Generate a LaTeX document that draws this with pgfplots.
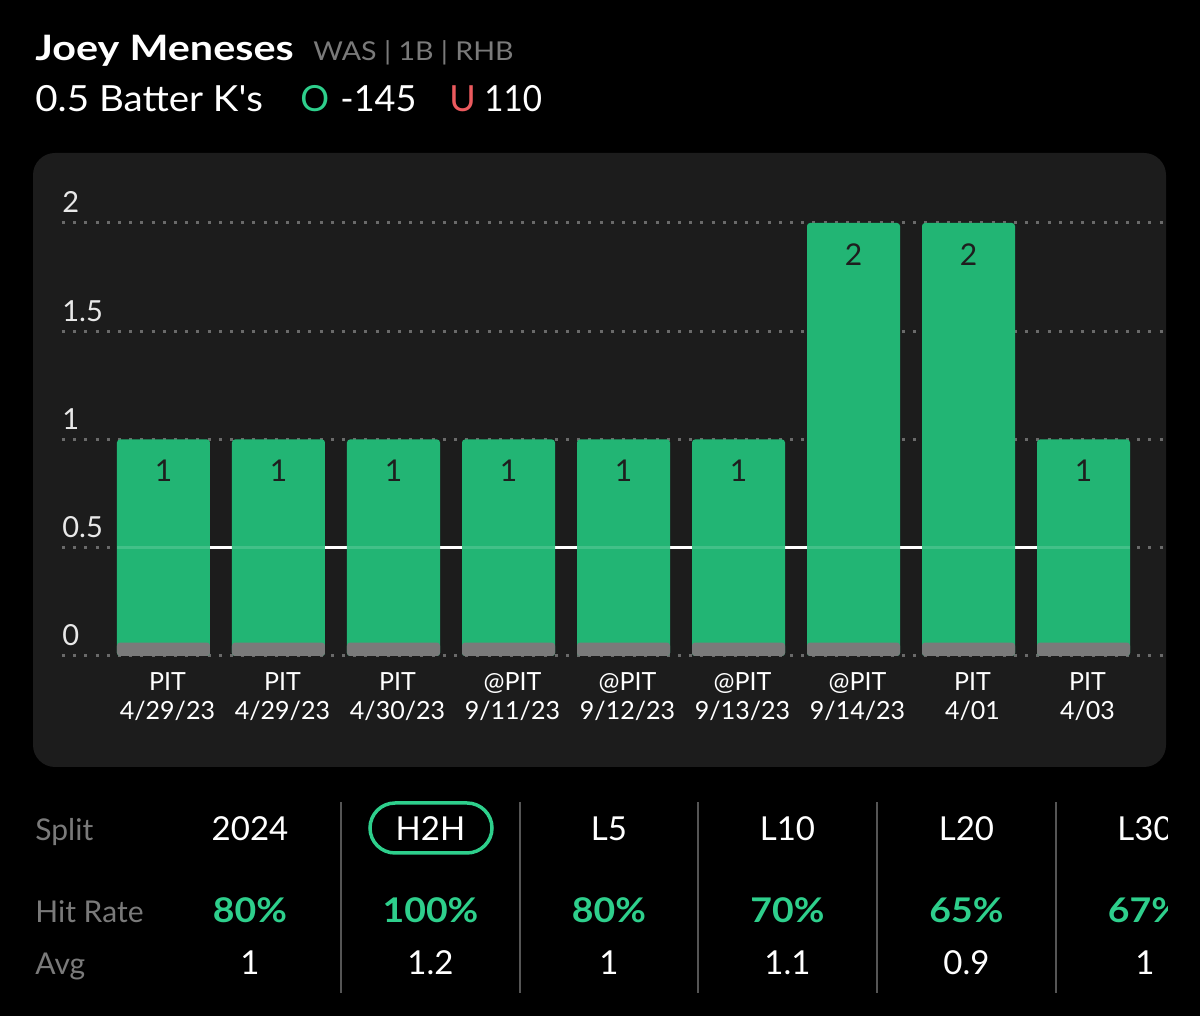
\documentclass[border=0pt]{standalone}
\usepackage{fontspec}
\setmainfont{Lato}
\newfontfamily\plainlato{Lato}
\usepackage{pgfplots}
\pgfplotsset{compat=1.18}
\definecolor{panel}{HTML}{1C1C1C}
\definecolor{bargreen}{HTML}{22B574}
\definecolor{txtgreen}{HTML}{2ECF8C}
\definecolor{ured}{HTML}{EC5A5E}
\definecolor{subgray}{HTML}{7A7A7A}
\definecolor{dotgray}{HTML}{6A6A6A}
\definecolor{sepgray}{HTML}{555555}
\definecolor{barbase}{HTML}{7A7A7A}
\definecolor{lbldark}{HTML}{1E1E1E}
\definecolor{ticktxt}{HTML}{E8E8E8}
\begin{document}
\begin{tikzpicture}[x=0.5pt,y=0.5pt]
\fill[black] (0,0) rectangle (1200,1016);
\clip (0,0) rectangle (1200,1016);
% header
\node[anchor=base west, inner sep=0, text=white, font=\fontsize{17.5}{20}\selectfont\bfseries] at (35,955) {\scalebox{1.18}[1]{Joey Meneses}};
\node[anchor=base west, inner sep=0, text=subgray, font=\fontsize{13}{15}\selectfont] at (313,955) {\scalebox{1.1}[1]{WAS | 1B | RHB}};
\node[anchor=base west, inner sep=0, text=white, font=\fontsize{18}{21}\selectfont] at (35,904) {\scalebox{1.07}[1]{0.5 Batter K{\plainlato'}s}};
\node[anchor=base west, inner sep=0, text=txtgreen, font=\fontsize{18}{21}\selectfont] at (300,904) {O};
\node[anchor=base west, inner sep=0, text=white, font=\fontsize{18}{21}\selectfont] at (340,904) {-145};
\node[anchor=base west, inner sep=0, text=ured, font=\fontsize{18}{21}\selectfont] at (449,904) {U};
\node[anchor=base west, inner sep=0, text=white, font=\fontsize{18}{21}\selectfont] at (484,904) {\scalebox{0.92}[1]{110}};
% panel
\fill[panel, rounded corners=11pt] (33,249) rectangle (1166,863);
\begin{axis}[
  at={(31pt,180pt)}, anchor=south west,
  width=550.5pt, height=216.5pt, scale only axis,
  xmin=-0.8826, xmax=8.6913, ymin=0, ymax=2,
  axis line style={draw=none}, major tick length=0pt,
  /pgf/number format/assume math mode=true,
  ytick={0,0.5,1,1.5,2}, yticklabels={0,0.5,1,1.5,2},
  yticklabel style={anchor=base west, inner sep=0pt, yshift=5pt, text=ticktxt, font=\fontsize{14.5}{16}\selectfont},
  xtick={0,1,2,3,4,5,6,7,8},
  xticklabels={{PIT\\4/29/23},{PIT\\4/29/23},{PIT\\4/30/23},{@PIT\\9/11/23},{@PIT\\9/12/23},{@PIT\\9/13/23},{@PIT\\9/14/23},{PIT\\4/01},{PIT\\4/03}},
  xticklabel style={align=center, anchor=north, inner sep=0pt, yshift=-8pt, xshift=2pt, text=white, font=\fontsize{12.5}{14.5}\selectfont},
  ymajorgrids, grid style={dotgray, line width=1.5pt, dash pattern=on 1.5pt off 4.1pt},
  clip=false,
]
\addplot[white, line width=1.3pt, forget plot] coordinates {(-0.4043,0.5) (8.4043,0.5)};
\addplot[ybar, bar width=0.8087, bar shift=0, fill=bargreen, draw=none, rounded corners=1.5pt,
  nodes near coords, nodes near coords style={anchor=north, inner sep=0pt, yshift=-10pt, text=lbldark, font=\fontsize{15}{17}\selectfont}]
  coordinates {(0,1) (1,1) (2,1) (3,1) (4,1) (5,1) (6,2) (7,2) (8,1)};
\addplot[ybar, bar width=0.8087, bar shift=0, fill=barbase, draw=none, rounded corners=1.5pt]
  coordinates {(0,0.062) (1,0.062) (2,0.062) (3,0.062) (4,0.062) (5,0.062) (6,0.062) (7,0.062) (8,0.062)};
\addplot[white, opacity=0.15, line width=1.3pt, forget plot] coordinates {(-0.4043,0.5) (8.4043,0.5)};
\end{axis}
% table
\begin{scope}
\clip (0,0) rectangle (1167,240);
\foreach \x in {341,520,698,877,1056} {\draw[sepgray, line width=1.3pt] (\x,23) -- (\x,214);}
\draw[txtgreen, line width=1.75pt, rounded corners=12.5pt] (370,163) rectangle (492,213);
\node[anchor=base west, inner sep=0, text=subgray, font=\fontsize{15}{17}\selectfont] at (35,175) {Split};
\node[anchor=base west, inner sep=0, text=subgray, font=\fontsize{15}{17}\selectfont] at (35,93) {Hit Rate};
\node[anchor=base west, inner sep=0, text=subgray, font=\fontsize{15}{17}\selectfont] at (35,41) {Avg};
\foreach \x/\h/\r/\a in {250/2024/80/1, 430.5/H2H/100/1.2, 609/L5/80/1, 787.5/L10/70/1.1, 966.5/L20/65/0.9, 1145/L30/67/1} {
  \node[anchor=base, inner sep=0, text=white, font=\fontsize{16.5}{18}\selectfont] at (\x,175) {\h};
  \node[anchor=base, inner sep=0, text=txtgreen, font=\fontsize{17}{19}\selectfont\bfseries] at (\x,93) {\scalebox{1.1}[1]{\r\%}};
  \node[anchor=base, inner sep=0, text=white, font=\fontsize{16.5}{18}\selectfont] at (\x,41) {\a};
}
\end{scope}
\end{tikzpicture}
\end{document}
